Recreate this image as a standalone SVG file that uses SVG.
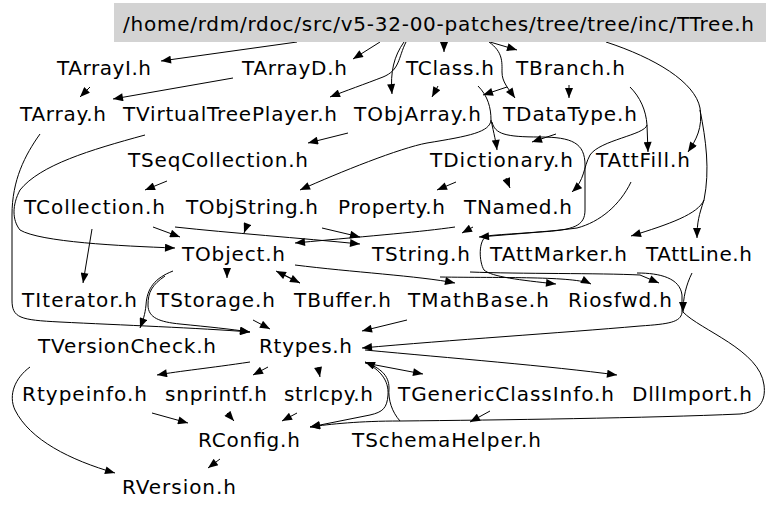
<svg xmlns="http://www.w3.org/2000/svg" width="768" height="511" viewBox="0 0 768 511">
<style>
text{font-family:"DejaVu Sans","Liberation Sans",sans-serif;font-size:20px;fill:#000}
.e path{fill:none;stroke:#000;stroke-width:1;marker-end:url(#ah)}
</style>
<defs>
<marker id="ah" viewBox="0 0 10 8" refX="10" refY="4" markerWidth="11" markerHeight="8" markerUnits="userSpaceOnUse" orient="auto"><path d="M0,0 L10,4 L0,8 z" fill="#000"/></marker>
</defs>
<rect width="768" height="511" fill="#fff"/>
<g class="e" id="edges">
<path d="M297,42 L161,61"/>
<path d="M380,42 L353,59"/>
<path d="M406,42 C398,58 400,70 383,77 C365,84 345,91 330,97"/>
<path d="M404,42 C394,56 390,72 392,94"/>
<path d="M444,42 L444,52"/>
<path d="M490,42 L517,50"/>
<path d="M489,42 C503,52 502,62 502,72 C502,82 508,88 515,98"/>
<path d="M606,42 C655,58 695,82 700,108 C703,128 696,140 688,152"/>
<path d="M700,110 C706,140 710,170 704,200 C699,215 697,222 697,238"/>
<path d="M704,200 C698,214 670,224 631,236"/>
<path d="M90,87 L80,97"/>
<path d="M233,78 L113,99"/>
<path d="M438,86 L432,97"/>
<path d="M507,87 L483,95"/>
<path d="M478,86 C488,96 491,108 491,120 C490,132 470,136 427,143 C400,148 340,172 300,190"/>
<path d="M491,120 C494,134 496,142 497,150"/>
<path d="M492,122 C495,134 505,137 540,137 C572,137 585,143 585,165 L585,210 C585,226 574,230 540,232 L479,237"/>
<path d="M569,85 L569,98"/>
<path d="M630,87 C640,97 646,110 647,125 L648,152"/>
<path d="M647,125 C645,135 600,140 590,155 C583,168 585,180 572,192"/>
<path d="M348,133 L308,143"/>
<path d="M556,134 L532,142"/>
<path d="M456,182 L437,190"/>
<path d="M506,178 L510,188"/>
<path d="M167,181 L145,190"/>
<path d="M145,135 C90,150 40,165 20,190 C12,205 12,220 20,230 C40,242 120,246 175,248"/>
<path d="M40,134 C25,155 12,180 12,215 L12,300 C12,318 20,320 60,322 C120,325 200,328 250,332"/>
<path d="M92,229 L83,283"/>
<path d="M153,227 L180,237"/>
<path d="M175,227 C230,233 300,238 360,244"/>
<path d="M247,225 L244,233"/>
<path d="M322,228 L360,237"/>
<path d="M455,227 C420,232 380,235 295,243"/>
<path d="M473,227 L462,233"/>
<path d="M631,182 C620,205 600,222 577,228 C540,233 500,234 487,236 C478,240 479,262 484,270 C492,277 520,280 556,284"/>
<path d="M295,265 C350,272 420,276 455,283"/>
<path d="M440,277 C500,278 575,276 591,284"/>
<path d="M470,272 C520,274 600,273 640,275 L659,283"/>
<path d="M637,273 C660,273 680,278 682,295 L682,313 C680,322 670,324 640,326 C560,333 450,340 362,348"/>
<path d="M692,273 C686,285 683,298 683,312"/>
<path d="M683,312 C700,330 760,350 764,385 C766,400 760,412 740,414 C650,418 500,420 400,421 C360,421 330,424 310,427"/>
<path d="M490,411 L470,422"/>
<path d="M227,268 L227,278"/>
<path d="M278,272 L300,283"/>
<path d="M300,283 L276,271"/>
<path d="M173,271 C155,278 147,288 146,305 C145,315 143,320 140,328"/>
<path d="M165,276 C152,285 148,292 148,305 C148,318 160,322 180,324 C210,327 230,329 250,332"/>
<path d="M253,320 L270,329"/>
<path d="M407,320 L362,331"/>
<path d="M250,362 C210,368 180,371 157,375"/>
<path d="M268,367 L253,375"/>
<path d="M318,367 L320,377"/>
<path d="M365,363 L423,374"/>
<path d="M365,350 C450,358 550,366 617,375"/>
<path d="M365,362 C380,370 389,380 388,395 C387,408 383,412 370,415 C350,419 330,423 310,427"/>
<path d="M400,421 C392,412 388,400 389,388 C389,375 380,368 365,362"/>
<path d="M30,367 C15,378 8,395 15,410 C30,440 70,460 115,473"/>
<path d="M152,413 L188,423"/>
<path d="M227,413 L234,421"/>
<path d="M297,413 L282,421"/>
<path d="M220,459 L208,468"/>
</g>
<g id="TTree"><rect x="114" y="3" width="652" height="39" fill="#d3d3d3"/><text x="123" y="31" textLength="631">/home/rdm/rdoc/src/v5-32-00-patches/tree/tree/inc/TTree.h</text></g>
<g id="TArrayI"><text x="57" y="75" textLength="94">TArrayI.h</text></g>
<g id="TArrayD"><text x="242" y="75" textLength="105">TArrayD.h</text></g>
<g id="TClass"><text x="406" y="75" textLength="88">TClass.h</text></g>
<g id="TBranch"><text x="516" y="75" textLength="109">TBranch.h</text></g>
<g id="TArray"><text x="20" y="121" textLength="86">TArray.h</text></g>
<g id="TVirtualTreePlayer"><text x="123" y="121" textLength="214">TVirtualTreePlayer.h</text></g>
<g id="TObjArray"><text x="354" y="121" textLength="127">TObjArray.h</text></g>
<g id="TDataType"><text x="503" y="121" textLength="134">TDataType.h</text></g>
<g id="TSeqCollection"><text x="128" y="167" textLength="180">TSeqCollection.h</text></g>
<g id="TDictionary"><text x="430" y="167" textLength="143">TDictionary.h</text></g>
<g id="TAttFill"><text x="596" y="167" textLength="94">TAttFill.h</text></g>
<g id="TCollection"><text x="24" y="214" textLength="141">TCollection.h</text></g>
<g id="TObjString"><text x="186" y="214" textLength="132">TObjString.h</text></g>
<g id="Property"><text x="338" y="214" textLength="107">Property.h</text></g>
<g id="TNamed"><text x="464" y="214" textLength="108">TNamed.h</text></g>
<g id="TObject"><text x="182" y="261" textLength="103">TObject.h</text></g>
<g id="TString"><text x="372" y="261" textLength="98">TString.h</text></g>
<g id="TAttMarker"><text x="490" y="261" textLength="137">TAttMarker.h</text></g>
<g id="TAttLine"><text x="646" y="261" textLength="106">TAttLine.h</text></g>
<g id="TIterator"><text x="22" y="307" textLength="115">TIterator.h</text></g>
<g id="TStorage"><text x="157" y="307" textLength="118">TStorage.h</text></g>
<g id="TBuffer"><text x="294" y="307" textLength="97">TBuffer.h</text></g>
<g id="TMathBase"><text x="408" y="307" textLength="141">TMathBase.h</text></g>
<g id="Riosfwd"><text x="568" y="307" textLength="104">Riosfwd.h</text></g>
<g id="TVersionCheck"><text x="38" y="353" textLength="178">TVersionCheck.h</text></g>
<g id="Rtypes"><text x="259" y="353" textLength="93">Rtypes.h</text></g>
<g id="Rtypeinfo"><text x="22" y="401" textLength="125">Rtypeinfo.h</text></g>
<g id="snprintf"><text x="165" y="401" textLength="102">snprintf.h</text></g>
<g id="strlcpy"><text x="284" y="401" textLength="89">strlcpy.h</text></g>
<g id="TGenericClassInfo"><text x="398" y="401" textLength="216">TGenericClassInfo.h</text></g>
<g id="DllImport"><text x="632" y="401" textLength="120">DllImport.h</text></g>
<g id="RConfig"><text x="198" y="447" textLength="102">RConfig.h</text></g>
<g id="TSchemaHelper"><text x="352" y="447" textLength="189">TSchemaHelper.h</text></g>
<g id="RVersion"><text x="122" y="494" textLength="114">RVersion.h</text></g>
</svg>
